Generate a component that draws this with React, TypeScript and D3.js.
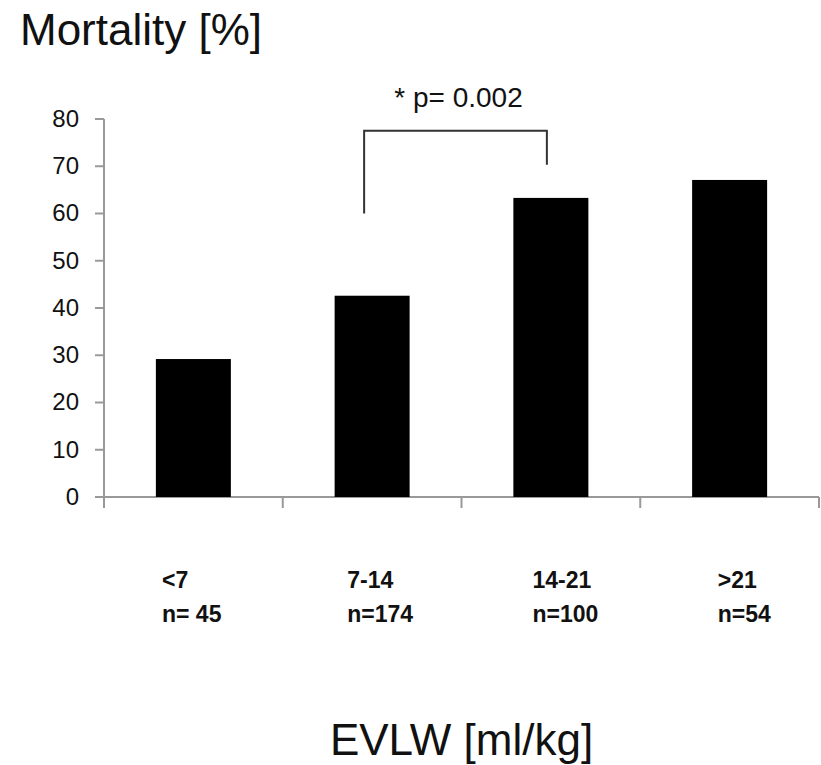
import { useEffect } from 'react';
import * as d3 from 'd3';

// categories and values
const categories = ['<7', '7-14', '14-21', '>21'];
const groupSizes = ['n= 45', 'n=174', 'n=100', 'n=54'];
const mortality = [29.2, 42.6, 63.3, 67.1];
const yTicks = [0, 10, 20, 30, 40, 50, 60, 70, 80];

// significance bracket between 7-14 and 14-21
const bracketFrom = '7-14';
const bracketTo = '14-21';
const bracketLeftBottom = 60;
const bracketRightBottom = 70.3;
const bracketTop = 77.5;
const pLabel = '* p= 0.002';

const App = () => {
  useEffect(() => {
    document.body.style.margin = '0';
  }, []);

  const width = 821;
  const height = 765;
  const margin = { top: 119, right: 2, bottom: 268, left: 104 };
  const font = 'Arial, "Liberation Sans", sans-serif';
  const axisColor = '#999';

  const x = d3.scaleBand()
    .domain(categories)
    .range([margin.left, width - margin.right])
    .paddingInner(0)
    .paddingOuter(0);

  const y = d3.scaleLinear()
    .domain([0, 80])
    .range([height - margin.bottom, margin.top]);

  const barWidth = 75;
  const bw = x.bandwidth();
  const center = (c) => (x(c) ?? 0) + bw / 2;

  const bLeft = center(bracketFrom) - 8;
  const bRight = center(bracketTo) - 4;
  const bracketPath = d3.line()([
    [bLeft, y(bracketLeftBottom)],
    [bLeft, y(bracketTop)],
    [bRight, y(bracketTop)],
    [bRight, y(bracketRightBottom)],
  ]);

  const y0 = y(0);
  const boundaries = [...categories.map(c => x(c) ?? 0), x.range()[1]];

  return (
    <svg width={width} height={height} style={{ display: 'block', background: '#fff' }}>
      {/* titles */}
      <text x={20} y={45} fontFamily={font} fontSize={44} fill="#111">Mortality [%]</text>
      <text x={(x.range()[0] + x.range()[1]) / 2} y={755} textAnchor="middle"
        fontFamily={font} fontSize={44} fill="#111">EVLW [ml/kg]</text>

      {/* y axis */}
      <line x1={margin.left} x2={margin.left} y1={y(80)} y2={y0 + 11} stroke={axisColor} strokeWidth={2} />
      {yTicks.map(t => (
        <g key={t}>
          <line x1={margin.left - 9} x2={margin.left} y1={y(t)} y2={y(t)} stroke={axisColor} strokeWidth={2} />
          <text x={79} y={y(t)} dy="0.33em" textAnchor="end" fontFamily={font} fontSize={24} fill="#111">{t}</text>
        </g>
      ))}

      {/* x axis */}
      <line x1={x.range()[0]} x2={x.range()[1]} y1={y0} y2={y0} stroke={axisColor} strokeWidth={2} />
      {boundaries.map((b, i) => (
        <line key={i} x1={b} x2={b} y1={y0} y2={y0 + 11} stroke={axisColor} strokeWidth={2} />
      ))}

      {/* bars */}
      {categories.map((c, i) => (
        <rect key={c} x={center(c) - barWidth / 2} y={y(mortality[i])}
          width={barWidth} height={y0 - y(mortality[i])} fill="#000" />
      ))}

      {/* category labels */}
      {categories.map((c, i) => (
        <text key={c} x={(x(c) ?? 0) + 58 + i * 6.5} y={588} fontFamily={font}
          fontSize={23} fontWeight="bold" fill="#111">
          <tspan x={(x(c) ?? 0) + 58 + i * 6.5}>{c}</tspan>
          <tspan x={(x(c) ?? 0) + 58 + i * 6.5} dy={34}>{groupSizes[i]}</tspan>
        </text>
      ))}

      {/* significance bracket */}
      <path d={bracketPath ?? ''} fill="none" stroke="#333" strokeWidth={2} />
      <text x={(bLeft + bRight) / 2 + 3} y={107} textAnchor="middle" fontFamily={font}
        fontSize={28} fill="#111">{pLabel}</text>
    </svg>
  );
};

export default App;
